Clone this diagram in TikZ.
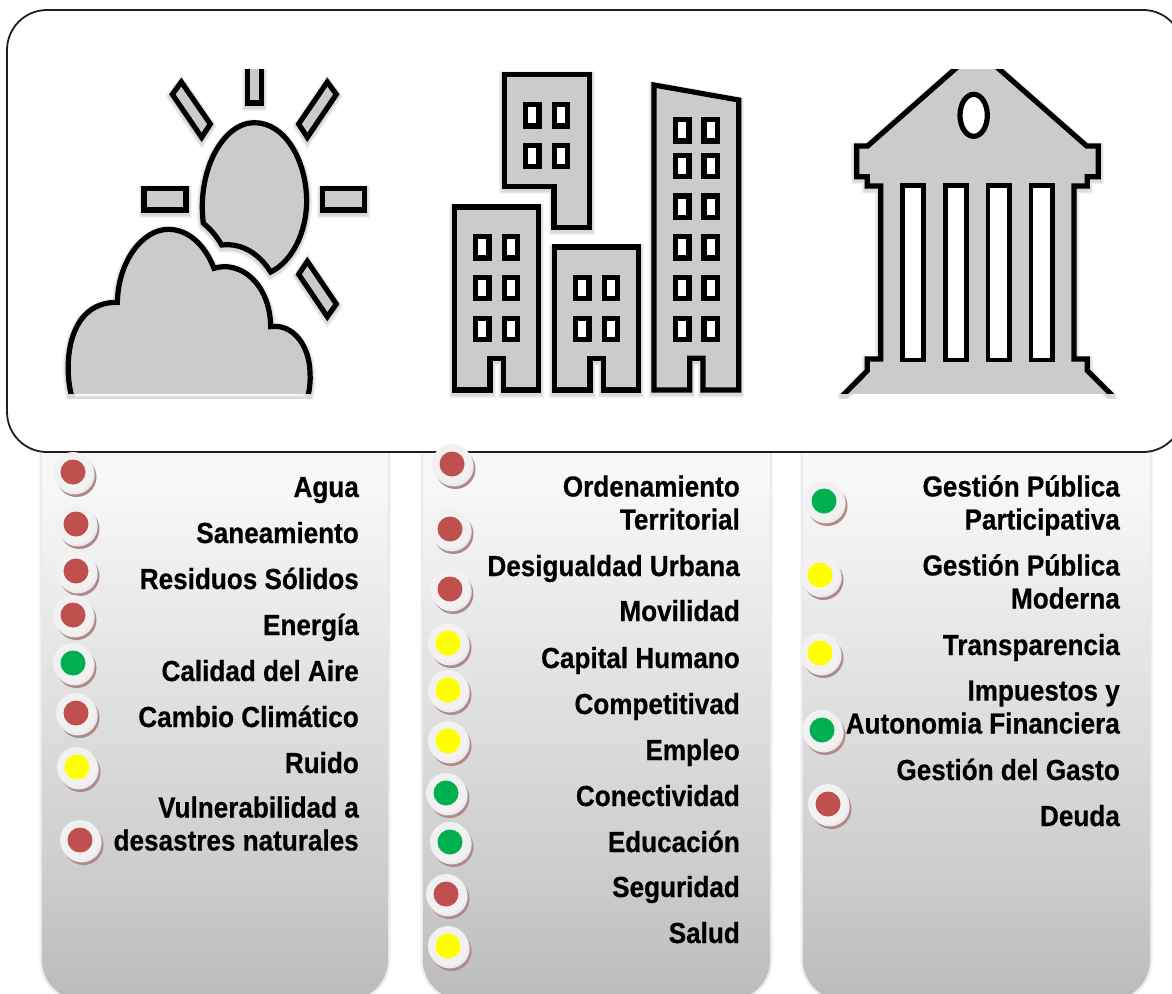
\documentclass[tikz,border=0pt]{standalone}
\usepackage{fontspec}
\setmainfont[FakeStretch=0.9,BoldFeatures={FakeStretch=0.9,FakeBold=0.5}]{Liberation Sans}
\definecolor{iconfill}{HTML}{CBCBCB}
\definecolor{ringc}{HTML}{F1F1F1}
\definecolor{redc}{HTML}{C0504D}
\definecolor{greenc}{HTML}{00B050}
\definecolor{yellowc}{HTML}{FFFF00}
\definecolor{shadowc}{HTML}{B08A8A}
\definecolor{pB}{HTML}{BBBBBB}
\definecolor{pC}{HTML}{CCCCCC}
\definecolor{pF}{HTML}{F8F8F8}
\pgfdeclareverticalshading{panelshade}{100bp}{color(0bp)=(pB); color(25bp)=(pB); color(35bp)=(pC); color(68.3bp)=(pF); color(100bp)=(pF)}
\tikzset{
  panelbox/.style={shading=panelshade,rounded corners=40pt},
  topbox/.style={draw=black!88,fill=white,line width=1.8pt,rounded corners=40pt},
  iconline/.style={draw=black,fill=iconfill,line width=5.2pt,line join=miter},
  hole/.style={draw=black,fill=white,line width=5.2pt},
  lbl/.style={font=\fontsize{29}{33}\selectfont\bfseries,align=right,inner sep=0pt,anchor=base east},
  ringnode/.style={circle,fill=ringc,minimum size=40pt,inner sep=0pt},
  zoomA/.style={shift={(40,60)},x=0.33333pt,y=-0.33333pt},
  zoomB/.style={shift={(430,60)},x=0.33333pt,y=-0.33333pt},
  zoomC/.style={shift={(820,60)},x=0.33333pt,y=-0.33333pt},
}
\newcommand{\softicon}[1]{%
  \begin{scope}
    \clip (clipTL) rectangle (clipBS);
    \foreach \w in {11,9,7}{\draw[black,opacity=.05,line width=\w pt,yshift=-2pt] #1;}
  \end{scope}
  \begin{scope}
    \clip (clipTL) rectangle (clipBR);
    \draw[iconline] #1;
  \end{scope}}
\newcommand{\statusdot}[4]{%
  \fill[shadowc] (#2+3.5,#3+5) circle (20pt);
  \fill[white!92!black] (#2+1.7,#3+2.4) circle (20pt);
  \node[ringnode] (r#1) at (#2,#3) {};
  \node[circle,fill=#4,minimum size=25pt,inner sep=0pt] (d#1) at (r#1.center) {};}
\newcommand{\panelshadow}[2]{%
  \foreach \w in {6,4,2}{\draw[black,opacity=.03,line width=\w pt,rounded corners=40pt] (#1,400) rectangle (#2,1000);}}
\begin{document}
\begin{tikzpicture}[x=1pt,y=-1pt]
\useasboundingbox (0,0) rectangle (1172,993);
\clip (0,0) rectangle (1172,993);
\coordinate (clipTL) at (0,69);
\coordinate (clipBR) at (1172,393.8);
\coordinate (clipBS) at (1172,398);
% panels
\panelshadow{42}{388}
\panelshadow{423}{770}
\panelshadow{803}{1150}
\path[panelbox] (42,400) rectangle (388,1000);
\path[panelbox] (423,400) rectangle (770,1000);
\path[panelbox] (803,400) rectangle (1150,1000);
% top box
\draw[topbox] (7,10) rectangle (1183,452);
% sun and cloud
\begin{scope}[zoomA]
\softicon{(622,-30) -- (664,-30) -- (664,129) -- (622,129) -- cycle}
\softicon{(312,385) -- (438,385) -- (438,450) -- (312,450) -- cycle}
\softicon{(847,385) -- (973,385) -- (973,450) -- (847,450) -- cycle}
\softicon{(424,66) -- (397,103) -- (485,232) -- (511,192) -- cycle}
\softicon{(862,66) -- (889,103) -- (802,232) -- (776,192) -- cycle}
\softicon{(802,604) -- (776,643) -- (862,770) -- (889,732) -- cycle}
\softicon{(490,490) .. controls (470,330) and (550,188) .. (643,188) .. controls (735,188) and (798,300) .. (800,420) .. controls (800,520) and (755,605) .. (692,636) .. controls (660,585) and (610,548) .. (545,555) .. controls (530,530) and (515,510) .. (490,490) -- cycle}
\softicon{(97,1015) .. controls (70,930) and (75,725) .. (232,727) .. controls (235,600) and (310,508) .. (385,508) .. controls (445,508) and (495,555) .. (522,625) .. controls (600,600) and (690,670) .. (692,800) .. controls (760,790) and (810,860) .. (810,940) .. controls (812,965) and (808,990) .. (803,1015) -- cycle}
\end{scope}
% buildings
\begin{scope}[zoomB]
\softicon{(223,43) -- (478,43) -- (478,503) -- (372,503) -- (372,380) -- (223,380) -- cycle}
\softicon{(73,441) -- (326,441) -- (326,990) -- (221,990) -- (221,895) -- (180,895) -- (180,990) -- (73,990) -- cycle}
\softicon{(373,561) -- (626,561) -- (626,990) -- (520,990) -- (520,895) -- (480,895) -- (480,990) -- (373,990) -- cycle}
\softicon{(672,75) -- (926,120) -- (926,990) -- (819,990) -- (819,895) -- (779,895) -- (779,990) -- (672,990) -- cycle}
\foreach \wx/\wy in {280/127,366/127,280/249,366/249,
  130/523,216/523,130/645,216/645,130/768,216/768,
  430/645,516/645,430/768,516/768,
  730/172,815/172,730/279,815/279,730/401,815/401,730/523,815/523,730/645,815/645,730/768,815/768}
  {\draw[hole] (\wx+7,\wy+7) rectangle (\wx+47,\wy+71);}
\end{scope}
% temple
\begin{scope}[zoomC]
\softicon{(143,258) -- (110,258) -- (110,350) -- (142,350) -- (142,378) -- (182,378) -- (182,897) -- (142,897) -- (142,932) -- (70,1005) -- (70,1030) -- (875,1030) -- (875,1005) -- (802,932) -- (802,897) -- (762,897) -- (762,378) -- (802,378) -- (802,350) -- (835,350) -- (835,258) -- (800,258) -- (471,-31) -- cycle}
\foreach \cx in {247,376,504,633}
  {\draw[hole,line width=4.4pt] (\cx,377) rectangle (\cx+64,900);}
\draw[hole] (461,166) ellipse [x radius=41,y radius=63];
\end{scope}
% status dots column 1
\statusdot{a1}{73}{472}{redc}
\statusdot{a2}{76}{524}{redc}
\statusdot{a3}{76}{571}{redc}
\statusdot{a4}{73}{615}{redc}
\statusdot{a5}{73}{663}{greenc}
\statusdot{a6}{76}{713}{redc}
\statusdot{a7}{77}{767}{yellowc}
\statusdot{a8}{80}{840}{redc}
% column 2
\statusdot{b1}{452}{464}{redc}
\statusdot{b2}{450}{529}{redc}
\statusdot{b3}{450}{589}{redc}
\statusdot{b4}{448}{643}{yellowc}
\statusdot{b5}{448}{690}{yellowc}
\statusdot{b6}{448}{741}{yellowc}
\statusdot{b7}{446}{793}{greenc}
\statusdot{b8}{450}{842}{greenc}
\statusdot{b9}{446}{894}{redc}
\statusdot{b10}{448}{946}{yellowc}
% column 3
\statusdot{c1}{824}{501}{greenc}
\statusdot{c2}{820}{575}{yellowc}
\statusdot{c3}{820}{653}{yellowc}
\statusdot{c4}{822}{730}{greenc}
\statusdot{c5}{828}{804}{redc}
% labels column 1
\node[lbl] (ta1) at (359,497) {Agua};
\node[lbl] (ta2) at (359,543) {Saneamiento};
\node[lbl] (ta3) at (359,589) {Residuos Sólidos};
\node[lbl] (ta4) at (359,635) {Energía};
\node[lbl] (ta5) at (359,681) {Calidad del Aire};
\node[lbl] (ta6) at (359,727) {Cambio Climático};
\node[lbl] (ta7) at (359,773) {Ruido};
\node[lbl] (ta8) at (359,850.5) {Vulnerabilidad a\\desastres naturales};
% labels column 2
\node[lbl] (tb1) at (740,529.5) {Ordenamiento\\Territorial};
\node[lbl] (tb2) at (740,576) {Desigualdad Urbana};
\node[lbl] (tb3) at (740,621) {Movilidad};
\node[lbl] (tb4) at (740,668) {Capital Humano};
\node[lbl] (tb5) at (740,714) {Competitivad};
\node[lbl] (tb6) at (740,760) {Empleo};
\node[lbl] (tb7) at (740,806) {Conectividad};
\node[lbl] (tb8) at (740,852) {Educación};
\node[lbl] (tb9) at (740,897) {Seguridad};
\node[lbl] (tb10) at (740,943) {Salud};
% labels column 3
\node[lbl] (tc1) at (1120,529.5) {Gestión Pública\\Participativa};
\node[lbl] (tc2) at (1120,608.5) {Gestión Pública\\Moderna};
\node[lbl] (tc3) at (1120,655) {Transparencia};
\node[lbl] (tc4) at (1120,733.5) {Impuestos y\\Autonomia Financiera};
\node[lbl] (tc5) at (1120,780) {Gestión del Gasto};
\node[lbl] (tc6) at (1120,826) {Deuda};
\end{tikzpicture}
\end{document}
